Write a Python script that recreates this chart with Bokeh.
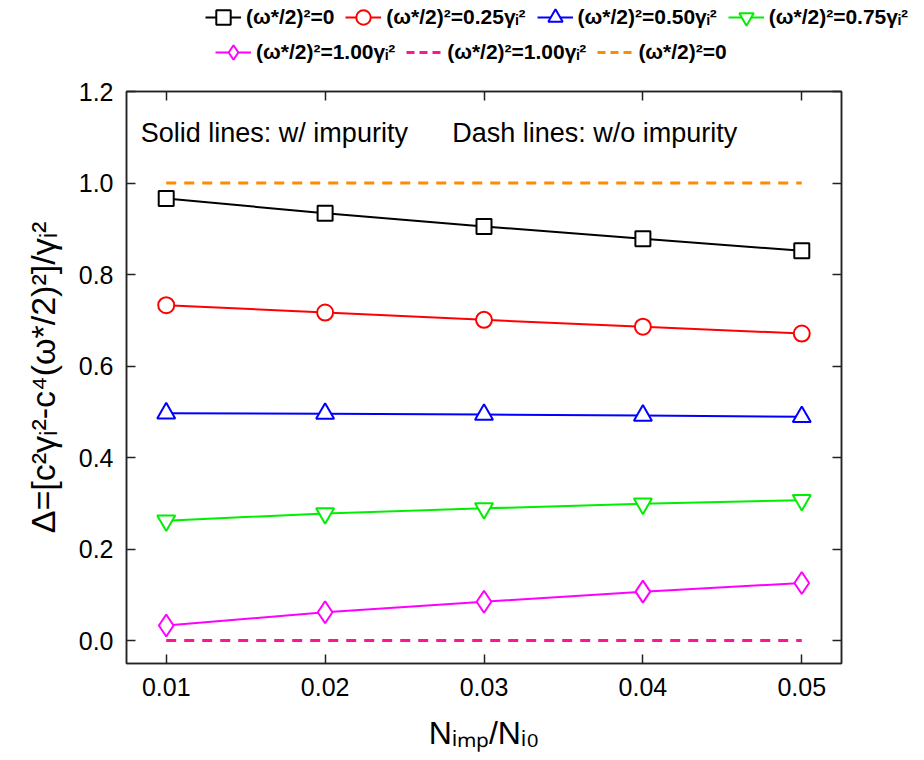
from bokeh.plotting import figure
from bokeh.layouts import column, row
from bokeh.models import Range1d, LinearAxis, Legend, LegendItem, Label, FixedTicker
from bokeh.embed import file_html
from bokeh.resources import INLINE

# ---- data ----
x_vals = [0.01, 0.02, 0.03, 0.04, 0.05]
delta_w0 = [0.966, 0.934, 0.905, 0.878, 0.852]
delta_w025 = [0.733, 0.717, 0.701, 0.686, 0.671]
delta_w050 = [0.497, 0.496, 0.494, 0.492, 0.489]
delta_w075 = [0.262, 0.278, 0.289, 0.299, 0.307]
delta_w100 = [0.033, 0.062, 0.085, 0.107, 0.126]
noimp_w100 = [0.0, 0.0, 0.0, 0.0, 0.0]
noimp_w0 = [1.0, 1.0, 1.0, 1.0, 1.0]
x_ticks = [0.01, 0.02, 0.03, 0.04, 0.05]
y_ticks = [0.0, 0.2, 0.4, 0.6, 0.8, 1.0, 1.2]
labels = ["(ω*/2)²=0", "(ω*/2)²=0.25γᵢ²", "(ω*/2)²=0.50γᵢ²", "(ω*/2)²=0.75γᵢ²",
          "(ω*/2)²=1.00γᵢ²", "(ω*/2)²=1.00γᵢ²", "(ω*/2)²=0"]

FONT = "Liberation Sans"
FW, FH = 715, 572
LEG_W = 922
LEG_H = 71

p = figure(frame_width=FW, frame_height=FH, output_backend="svg", toolbar_location=None,
           x_range=Range1d(0.0075, 0.0525), y_range=Range1d(-0.05, 1.2),
           min_border_left=126, min_border_right=70, min_border_top=91 - LEG_H,
           min_border_bottom=85,
           background_fill_color="white", border_fill_color="white")
p.outline_line_color = "#222222"
p.outline_line_width = 1.5
p.xgrid.visible = False
p.ygrid.visible = False

for ax in p.xaxis + p.yaxis:
    ax.major_tick_in = 9
    ax.major_tick_out = 0
    ax.minor_tick_line_color = None
    ax.axis_line_color = "#222222"
    ax.axis_line_width = 1.5
    ax.major_tick_line_color = "#222222"
    ax.major_tick_line_width = 1.5
    ax.major_label_text_font = FONT
    ax.major_label_text_font_size = "25px"
    ax.major_label_text_color = "black"
    ax.axis_label_text_font = FONT
    ax.axis_label_text_font_style = "normal"
    ax.axis_label_text_color = "black"

p.xaxis.ticker = FixedTicker(ticks=x_ticks)
p.yaxis.ticker = FixedTicker(ticks=y_ticks)
p.xaxis.major_label_overrides = {t: f"{t:.2f}" for t in x_ticks}
p.yaxis.major_label_overrides = {t: f"{t:.1f}" for t in y_ticks}
p.xaxis.axis_label = "Nᵢₘₚ/Nᵢ₀"
p.xaxis.axis_label_text_font_size = "32px"
p.xaxis.major_label_standoff = 14
p.xaxis.axis_label_standoff = 16
p.yaxis.axis_label = "Δ=[c²γᵢ²-c⁴(ω*/2)²]/γᵢ²"
p.yaxis.axis_label_text_font_size = "34px"
p.yaxis.major_label_standoff = 13
p.yaxis.axis_label_standoff = 14

top_ax = LinearAxis(ticker=FixedTicker(ticks=x_ticks), major_label_text_font_size="0px",
                    major_tick_in=9, major_tick_out=0, minor_tick_line_color=None,
                    axis_line_color="#222222", axis_line_width=1.5,
                    major_tick_line_color="#222222", major_tick_line_width=1.5)
right_ax = LinearAxis(ticker=FixedTicker(ticks=y_ticks), major_label_text_font_size="0px",
                      major_tick_in=9, major_tick_out=0, minor_tick_line_color=None,
                      axis_line_color="#222222", axis_line_width=1.5,
                      major_tick_line_color="#222222", major_tick_line_width=1.5)
top_ax.major_label_overrides = {t: "" for t in x_ticks}
right_ax.major_label_overrides = {t: "" for t in y_ticks}
p.add_layout(top_ax, "above")
p.add_layout(right_ax, "right")

series = [
    (delta_w0, "black", "square", 15),
    (delta_w025, "#FF0000", "circle", 16),
    (delta_w050, "#0000FF", "triangle", 18),
    (delta_w075, "#00EE00", "inverted_triangle", 18),
    (delta_w100, "#FF00FF", "diamond", 22),
]
dashed = [
    (noimp_w100, "#FF1493"),
    (noimp_w0, "#FF8C00"),
]

# ---- legend figure (stacked above the chart), no axes ----
lf = figure(width=LEG_W, height=LEG_H, output_backend="svg", toolbar_location=None,
            x_range=Range1d(0, 1), y_range=Range1d(0, 1),
            x_axis_location=None, y_axis_location=None,
            min_border_left=0, min_border_right=0, min_border_top=0, min_border_bottom=0,
            background_fill_color="white", border_fill_color="white")
lf.xgrid.visible = False
lf.ygrid.visible = False
lf.outline_line_color = None

items = []
for i, (ys, col, mk, sz) in enumerate(series):
    p.line(x_vals, ys, line_color=col, line_width=2)
    p.scatter(x_vals, ys, marker=mk, size=sz, line_color=col, line_width=2,
              fill_color="white")
    # legend proxies (outside the legend figure's visible range)
    ll = lf.line([-5, -4], [-5, -4], line_color=col, line_width=2)
    ls = lf.scatter([-5], [-5], marker=mk, size=sz, line_color=col, line_width=2,
                    fill_color="white")
    items.append(LegendItem(label=labels[i], renderers=[ll, ls]))

for j, (ys, col) in enumerate(dashed):
    p.line(x_vals, ys, line_color=col, line_width=3, line_dash="10 8")
    ld = lf.line([-5, -4], [-5, -4], line_color=col, line_width=3, line_dash="8 5")
    items.append(LegendItem(label=labels[5 + j], renderers=[ld]))

def make_legend(its, loc):
    return Legend(items=its, location=loc, orientation="horizontal",
                  glyph_width=36, glyph_height=36, label_standoff=5, spacing=11,
                  padding=0, margin=0, border_line_alpha=0, background_fill_alpha=0,
                  label_text_font=FONT, label_text_font_style="bold",
                  label_text_color="black",
                  label_text_font_size="21px", label_height=20)

# location = bottom-left corner in pixels from the legend figure's bottom-left
lf.add_layout(make_legend(items[:4], (205, LEG_H - 17 - 18)))
lf.add_layout(make_legend(items[4:], (215, LEG_H - 52 - 18)))

p.add_layout(Label(x=0.0084, y=1.11, text="Solid lines: w/ impurity", text_font=FONT,
                   text_font_size="27px", text_baseline="middle", text_align="left",
                   text_color="black"))
p.add_layout(Label(x=0.0280, y=1.11, text="Dash lines: w/o impurity", text_font=FONT,
                   text_font_size="27px", text_baseline="middle", text_align="left",
                   text_color="black"))

layout = column(row(lf), p, spacing=0)
open("out.html", "w").write(file_html(layout, INLINE))
